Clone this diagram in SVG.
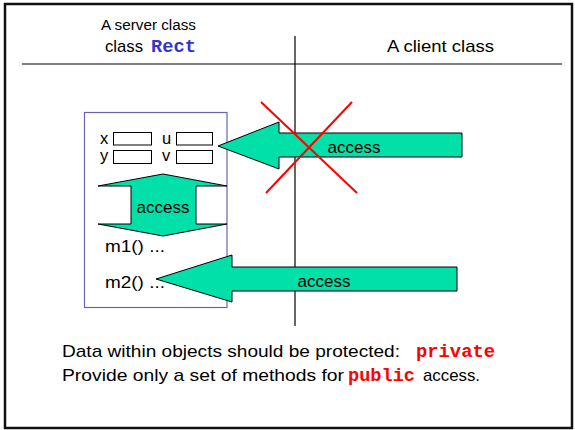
<svg xmlns="http://www.w3.org/2000/svg" width="575" height="430" viewBox="0 0 575 430">
<style>
.t{font-family:"Liberation Sans",Arial,sans-serif;fill:#000}
.m{font-family:"Liberation Mono","Courier New",monospace;font-weight:bold}
.arr{fill:#00e0a8;stroke:#000;stroke-width:1}
.fld{fill:#fff;stroke:#000;stroke-width:1}
</style>
<rect x="0" y="0" width="575" height="430" fill="#fff"/>
<rect x="5" y="4" width="567" height="424" fill="none" stroke="#111" stroke-width="2.5"/>
<g id="header">
<text class="t" x="101" y="30" font-size="14" textLength="95" lengthAdjust="spacingAndGlyphs">A server class</text>
<text class="t" x="105" y="52" font-size="17" textLength="38" lengthAdjust="spacingAndGlyphs">class</text>
<text class="m" x="151" y="52" font-size="18.5" fill="#3333cc" textLength="45" lengthAdjust="spacingAndGlyphs">Rect</text>
<text class="t" x="387" y="52" font-size="17" textLength="107" lengthAdjust="spacingAndGlyphs">A client class</text>
</g>
<g id="dividers" stroke="#000" stroke-width="1.2">
<line x1="22" y1="64" x2="562" y2="64"/>
<line x1="295" y1="36" x2="295" y2="326"/>
</g>
<g id="server-box">
<rect x="84.5" y="112.5" width="142.5" height="195" fill="#fff" stroke="#6666aa" stroke-width="1.2"/>
<text class="t" x="100" y="144" font-size="16.5">x</text>
<rect class="fld" x="113.5" y="132.5" width="38" height="12.5"/>
<text class="t" x="162" y="144" font-size="16.5">u</text>
<rect class="fld" x="176.5" y="132.5" width="36" height="12.5"/>
<text class="t" x="100" y="161" font-size="16.5">y</text>
<rect class="fld" x="113.5" y="150.5" width="38" height="13"/>
<text class="t" x="162" y="161" font-size="16.5">v</text>
<rect class="fld" x="176.5" y="150.5" width="36" height="13"/>
<text class="t" x="105" y="252" font-size="17" textLength="60" lengthAdjust="spacingAndGlyphs">m1() ...</text>
<text class="t" x="105" y="288" font-size="17" textLength="60" lengthAdjust="spacingAndGlyphs">m2() ...</text>
</g>
<g id="connectors">
<g id="inner-access">
<polygon class="arr" points="163,174 227,186 196,186 196,224 227,224 163,236 98,224 131,224 131,186 98,186"/>
<text class="t" x="163" y="213" font-size="17" text-anchor="middle">access</text>
</g>
<g id="blocked-access">
<polygon class="arr" points="218,146 279,122 279,133 462,133 462,157 279,157 279,169"/>
<text class="t" x="354" y="153" font-size="17" text-anchor="middle">access</text>
<line x1="261" y1="102" x2="357" y2="193" stroke="#ff0000" stroke-width="2"/>
<line x1="352" y1="102" x2="266" y2="193" stroke="#ff0000" stroke-width="2"/>
</g>
<g id="method-access">
<polygon class="arr" points="156,279 232,255 232,267 457,267 457,291 232,291 232,302"/>
<text class="t" x="324" y="287" font-size="17" text-anchor="middle">access</text>
</g>
</g>
<g id="caption">
<text class="t" x="62" y="357" font-size="17" textLength="338" lengthAdjust="spacingAndGlyphs">Data within objects should be protected:</text>
<text class="m" x="416" y="357" font-size="18.5" fill="#ff0000" textLength="79" lengthAdjust="spacingAndGlyphs">private</text>
<text class="t" x="62" y="381" font-size="17" textLength="282" lengthAdjust="spacingAndGlyphs">Provide only a set of methods for</text>
<text class="m" x="348" y="381" font-size="18.5" fill="#ff0000" textLength="67" lengthAdjust="spacingAndGlyphs">public</text>
<text class="t" x="423" y="381" font-size="17" textLength="57" lengthAdjust="spacingAndGlyphs">access.</text>
</g>
</svg>
